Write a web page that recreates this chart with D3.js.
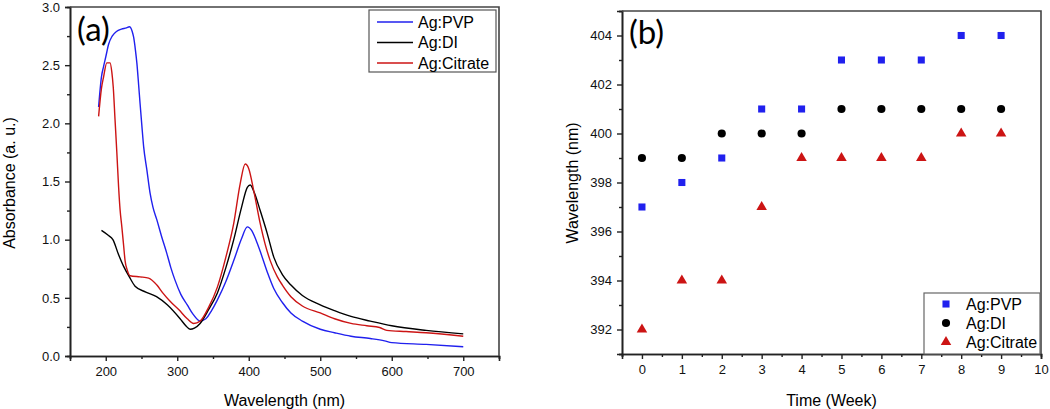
<!DOCTYPE html>
<html>
<head>
<meta charset="utf-8">
<script src="https://cdn.jsdelivr.net/npm/d3@7"></script>
<style>
  body { margin: 0; background: #fff; }
  text { font-family: "Liberation Sans", Arial, sans-serif; }
</style>
</head>
<body>
<div id="chart"></div>
<script>
// ---- panel (a) data: UV-vis spectra ----
const pvpWl  = [190, 194, 197, 200, 204, 209, 215, 222, 229, 233, 237, 239, 241.5, 243.5, 246, 248, 250.5, 253, 257.5, 262, 266, 271.5, 278, 285.5, 291, 297, 305, 314, 322, 332, 340, 348, 356, 368, 379, 390, 398, 404, 410, 416, 426, 435, 447, 459, 475, 500, 520, 543, 570, 590, 600, 648, 700];
const pvpAbs = [2.14, 2.40, 2.49, 2.57, 2.68, 2.75, 2.79, 2.81, 2.82, 2.83, 2.79, 2.74, 2.63, 2.52, 2.33, 2.17, 1.98, 1.80, 1.60, 1.40, 1.28, 1.17, 1.03, 0.88, 0.76, 0.65, 0.53, 0.44, 0.36, 0.30, 0.32, 0.39, 0.48, 0.64, 0.82, 1.01, 1.11, 1.08, 1.00, 0.90, 0.72, 0.58, 0.46, 0.37, 0.30, 0.23, 0.20, 0.17, 0.15, 0.13, 0.115, 0.10, 0.08];

const diWl  = [194, 203, 210, 218, 225, 233, 241, 256, 271, 286, 304, 312, 318, 324, 332, 344, 356, 368, 379, 390, 398, 402, 408, 416, 426, 435, 447, 459, 475, 500, 520, 543, 570, 600, 648, 700];
const diAbs = [1.08, 1.04, 1.00, 0.87, 0.77, 0.68, 0.60, 0.55, 0.51, 0.44, 0.32, 0.26, 0.23, 0.24, 0.28, 0.40, 0.54, 0.76, 1.00, 1.28, 1.45, 1.47, 1.40, 1.25, 1.05, 0.85, 0.70, 0.61, 0.52, 0.44, 0.39, 0.34, 0.30, 0.26, 0.22, 0.19];

const citWl  = [190, 194, 197, 201.5, 206, 208.5, 210.5, 213, 215.5, 218, 220, 222.5, 225, 227, 230, 234, 248, 260, 271.5, 280, 290, 302, 314, 323, 332, 344, 356, 368, 379, 388, 395, 400, 407, 416, 423, 430, 440, 447, 459, 475, 500, 520, 543, 565, 583, 593, 620, 648, 700];
const citAbs = [2.06, 2.30, 2.40, 2.52, 2.52, 2.44, 2.31, 2.03, 1.75, 1.45, 1.26, 1.11, 0.95, 0.82, 0.74, 0.69, 0.68, 0.67, 0.61, 0.54, 0.47, 0.40, 0.32, 0.28, 0.30, 0.42, 0.59, 0.85, 1.14, 1.48, 1.65, 1.61, 1.42, 1.14, 0.96, 0.82, 0.68, 0.61, 0.51, 0.43, 0.37, 0.32, 0.28, 0.26, 0.245, 0.22, 0.21, 0.20, 0.17];

const seriesNames = ["Ag:PVP", "Ag:DI", "Ag:Citrate"];
const seriesColors = ["#2020ee", "#000000", "#cc1414"];

const wlTicks = [200, 300, 400, 500, 600, 700];
const wlMinor = [150, 250, 350, 450, 550, 650, 750];
const absTicks = [0.0, 0.5, 1.0, 1.5, 2.0, 2.5, 3.0];
const absMinor = [0.25, 0.75, 1.25, 1.75, 2.25, 2.75];

// ---- panel (b) data: peak position vs time ----
const weeks = [0, 1, 2, 3, 4, 5, 6, 7, 8, 9];
const pvpPeak = [397, 398, 399, 401, 401, 403, 403, 403, 404, 404];
const diPeak  = [399, 399, 400, 400, 400, 401, 401, 401, 401, 401];
const citPeak = [392, 394, 394, 397, 399, 399, 399, 399, 400, 400];

const weekTicks = [0, 1, 2, 3, 4, 5, 6, 7, 8, 9, 10];
const weekMinor = [-0.5, 0.5, 1.5, 2.5, 3.5, 4.5, 5.5, 6.5, 7.5, 8.5, 9.5];
const peakTicks = [392, 394, 396, 398, 400, 402, 404];
const peakMinor = [391, 393, 395, 397, 399, 401, 403, 405];

const width = 1050;
const height = 409;

const svg = d3.select("#chart")
    .append("svg")
    .attr("width", width)
    .attr("height", height);

// draws bottom/left axes with major+minor ticks, plus the top/right frame
function drawFrame(g, x, y, xTicks, xMinor, yTicks, yMinor, xFmt, yFmt) {
    const [x0, x1] = x.range();
    const [y0, y1] = y.range();

    g.append("g")
        .attr("transform", `translate(0,${y0})`)
        .call(d3.axisBottom(x).tickValues(xMinor).tickSize(3).tickFormat(""));
    g.append("g")
        .attr("transform", `translate(0,${y0})`)
        .call(d3.axisBottom(x).tickValues(xTicks).tickSize(5).tickPadding(6).tickFormat(xFmt));
    g.append("g")
        .attr("transform", `translate(${x0},0)`)
        .call(d3.axisLeft(y).tickValues(yMinor).tickSize(3).tickFormat(""));
    g.append("g")
        .attr("transform", `translate(${x0},0)`)
        .call(d3.axisLeft(y).tickValues(yTicks).tickSize(5).tickPadding(5).tickFormat(yFmt));

    g.selectAll(".domain").attr("stroke", "#222").attr("stroke-width", 1.6);
    g.selectAll(".tick line").attr("stroke", "#222").attr("stroke-width", 1.4);
    g.selectAll(".tick text").style("font-size", "13px").attr("fill", "#111")
        .style("font-family", "'Liberation Sans', Arial, sans-serif");

    // top and right edges of the box
    g.append("path")
        .attr("d", `M${x0},${y1}H${x1}V${y0}`)
        .attr("fill", "none")
        .attr("stroke", "#444")
        .attr("stroke-width", 1.6);
}

// ================= panel (a) =================
const xa = d3.scaleLinear().domain([150, 750]).range([70, 499]);
const ya = d3.scaleLinear().domain([0, 3]).range([356, 7]);
const ga = svg.append("g");

const spectra = [
    { wl: pvpWl, abs: pvpAbs },
    { wl: diWl, abs: diAbs },
    { wl: citWl, abs: citAbs }
];

const line = d3.line()
    .x(d => xa(d[0]))
    .y(d => ya(d[1]))
    .curve(d3.curveMonotoneX);

ga.selectAll("path.spec")
    .data(spectra)
    .enter()
    .append("path")
    .attr("class", "spec")
    .attr("fill", "none")
    .attr("stroke", (d, i) => seriesColors[i])
    .attr("stroke-width", 1.4)
    .attr("d", d => line(d.wl.map((w, i) => [w, d.abs[i]])));

drawFrame(ga, xa, ya, wlTicks, wlMinor, absTicks, absMinor, d3.format("d"), d3.format(".1f"));

ga.append("text")
    .attr("x", 77).attr("y", 41)
    .style("font-family", "Lato, 'Open Sans', sans-serif")
    .style("font-size", "33px")
    .text("(a)");

ga.append("text")
    .attr("x", (70 + 499) / 2).attr("y", 406)
    .attr("text-anchor", "middle")
    .style("font-size", "16px")
    .text("Wavelength (nm)");

ga.append("text")
    .attr("transform", "translate(15,183) rotate(-90)")
    .attr("text-anchor", "middle")
    .style("font-size", "16px")
    .text("Absorbance (a. u.)");

// legend (a)
const lega = ga.append("g");
lega.append("rect")
    .attr("x", 369).attr("y", 10).attr("width", 127).attr("height", 62)
    .attr("fill", "#fff").attr("stroke", "#555").attr("stroke-width", 1.2);
seriesNames.forEach((name, i) => {
    const yy = 22 + i * 20.5;
    lega.append("line")
        .attr("x1", 377).attr("x2", 413).attr("y1", yy).attr("y2", yy)
        .attr("stroke", seriesColors[i]).attr("stroke-width", 1.4);
    lega.append("text")
        .attr("x", 418).attr("y", yy).attr("dy", "0.36em")
        .style("font-size", "16px")
        .text(name);
});

// ================= panel (b) =================
const xb = d3.scaleLinear().domain([-0.5, 10]).range([622, 1041]);
const yb = d3.scaleLinear().domain([391, 405]).range([354, 11]);
const gb = svg.append("g");

const symbols = [d3.symbolSquare, d3.symbolCircle, d3.symbolTriangle];
const symbolSizes = [50, 52, 48];
const peaks = [pvpPeak, diPeak, citPeak];

peaks.forEach((vals, s) => {
    gb.append("g")
        .selectAll("path")
        .data(weeks)
        .enter()
        .append("path")
        .attr("transform", (d, i) => `translate(${xb(d)},${yb(vals[i])})`)
        .attr("d", d3.symbol().type(symbols[s]).size(symbolSizes[s]))
        .attr("fill", seriesColors[s]);
});

drawFrame(gb, xb, yb, weekTicks, weekMinor, peakTicks, peakMinor, d3.format("d"), d3.format("d"));

gb.append("text")
    .attr("x", 629).attr("y", 44)
    .style("font-family", "Lato, 'Open Sans', sans-serif")
    .style("font-size", "33px")
    .text("(b)");

gb.append("text")
    .attr("x", (622 + 1041) / 2).attr("y", 406)
    .attr("text-anchor", "middle")
    .style("font-size", "16px")
    .text("Time (Week)");

gb.append("text")
    .attr("transform", "translate(578,183) rotate(-90)")
    .attr("text-anchor", "middle")
    .style("font-size", "16px")
    .text("Wavelength (nm)");

// legend (b)
const legb = gb.append("g");
legb.append("rect")
    .attr("x", 924).attr("y", 293).attr("width", 116).attr("height", 61)
    .attr("fill", "#fff").attr("stroke", "#666").attr("stroke-width", 1.2);
seriesNames.forEach((name, i) => {
    const yy = 304 + i * 19;
    legb.append("path")
        .attr("transform", `translate(946,${yy})`)
        .attr("d", d3.symbol().type(symbols[i]).size(symbolSizes[i]))
        .attr("fill", seriesColors[i]);
    legb.append("text")
        .attr("x", 966).attr("y", yy).attr("dy", "0.36em")
        .style("font-size", "16px")
        .text(name);
});
</script>
</body>
</html>
